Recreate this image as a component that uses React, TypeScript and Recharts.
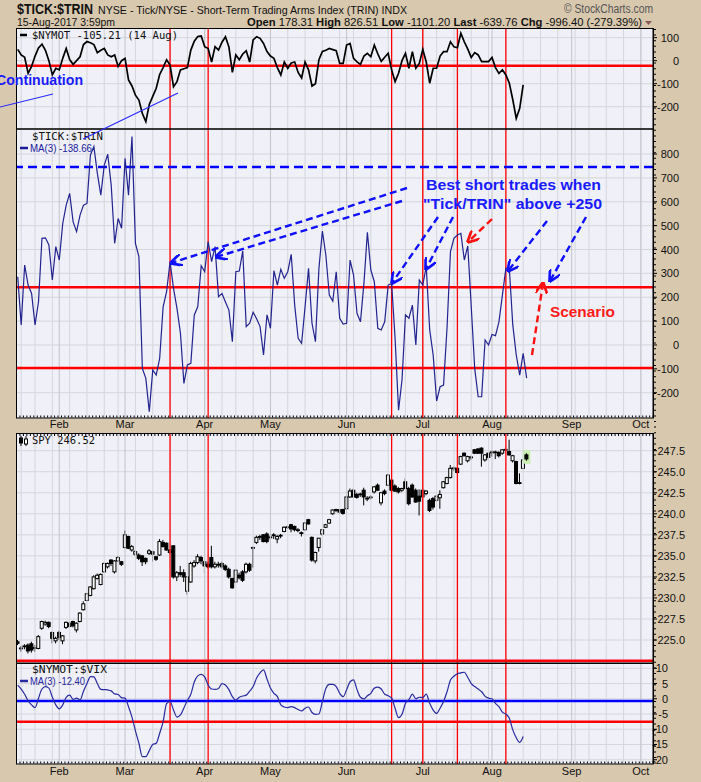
import React from 'react';
import { ComposedChart, LineChart, Line, Bar, XAxis, YAxis, CartesianGrid, ReferenceLine } from 'recharts';

// x is a trading-day index: 0 = 13 Jan 2017, 147 = 15 Aug 2017
const monthIdx = [12, 31, 54, 73, 95, 117, 137, 160, 180];
const monthLabels = ['Feb', 'Mar', 'Apr', 'May', 'Jun', 'Jul', 'Aug', 'Sep', 'Oct'];
const weekIdx = [1, 5, 10, 15, 20, 25, 29, 34, 39, 44, 49, 54, 59, 63, 68, 73, 78, 83, 88, 93, 97, 102, 107, 112, 117, 121, 126, 131, 136, 141, 146, 151, 156, 161, 165, 170, 175, 180];
const eventIdx = [44, 55, 108, 117, 127, 141];

const nymot = [
  49, 25, 15, -55, -25, 20, 55, 72, 45, 0, -62, -33, -40, 10, 53, 5, -16, 0, 17, 70,
  83, 78, 70, 35, 45, 53, 25, 17, 25, -25, 0, 10, -84, -110, -150, -171, -230, -265, -190, -155,
  -120, -60, -30, 4, -19, -113, -91, -40, -35, -30, 46, 85, 105, 107, 61, 53, -6, 61, 46, 80,
  104, 60, -51, 25, 4, 29, 43, -6, 90, 104, 97, 75, 40, 20, 10, -30, -62, -6, -33, -10,
  -6, -51, -75, -6, -40, -110, -100, 4, 40, 45, 53, 48, 43, -12, -12, 68, 75, 10, -5, -16,
  20, 32, 17, 68, 30, -3, 15, 32, -40, -91, -55, 0, 32, -33, 39, -33, -12, 49, -6, -98,
  -33, -33, 20, 39, 39, 82, 60, 56, 119, 82, 50, 14, 35, 25, -4, -4, -4, 14, -30, -55,
  -40, -62, -98, -170, -251, -207, -105,
];

const tickTrinMa = [
  286, 84, 335, 251, 216, 84, 181, 447, 449, 419, 272, 412, 356, 509, 586, 635, 516, 475, 544, 586,
  593, 796, 831, 719, 628, 754, 799, 670, 426, 530, 489, 782, 628, 873, 426, 370, -98, -140, -280, -105,
  -126, -56, 160, 223, 349, 237, 153, 49, -161, -84, -77, 126, 160, 332, 307, 433, 349, 412, 202, 216,
  180, 146, 14, 307, 310, 394, 77, 91, 137, 110, 77, -42, 126, 70, 311, 251, 317, 279, 307, 380,
  167, 28, 7, 160, 321, 91, 14, 321, 477, 377, 209, 184, 307, 112, 88, 91, 356, 293, 133, 97,
  258, 472, 314, 265, 70, 63, 97, 251, 258, 28, -273, -147, 126, 112, 167, 0, 272, 251, 328, 63,
  -42, -235, -175, -168, 70, 391, 447, 461, 468, 356, 415, 160, -98, -217, -217, 21, 0, 44, 39, 97,
  209, 321, 321, 84, -42, -126, -35, -139,
];

const spyOpen = [
  224.8, 224.0, 224.2, 224.4, 224.55, 224.0, 224.0, 226.4, 226.9, 227.1, 225.9, 224.9, 225.9, 224.9, 226.5, 227.0, 227.2, 226.2, 227.2, 228.6,
  229.7, 230.3, 231.1, 232.3, 231.6, 233.1, 233.7, 234.5, 233.1, 234.4, 234.3, 236.0, 237.3, 235.7, 235.2, 235.1, 235.0, 234.7, 235.3, 235.5,
  234.9, 235.1, 236.6, 236.5, 235.7, 236.2, 232.5, 233.0, 233.0, 230.8, 231.9, 233.8, 234.2, 234.8, 234.3, 234.0, 234.8, 233.7, 234.0, 234.1,
  233.8, 233.4, 232.3, 231.9, 232.7, 233.1, 233.1, 234.0, 235.9, 236.6, 237.2, 237.5, 237.6, 237.2, 237.5, 237.0, 237.4, 237.9, 238.4, 238.7,
  238.5, 238.05, 237.75, 238.1, 239.3, 237.2, 234.4, 236.0, 237.6, 238.4, 238.9, 240.0, 240.4, 240.5, 240.5, 240.6, 242.0, 242.8, 242.3, 242.3,
  242.8, 241.8, 241.95, 242.6, 243.4, 241.3, 242.7, 243.4, 244.0, 243.3, 243.0, 242.8, 243.8, 243.0, 243.4, 242.8, 242.1, 242.8, 242.4, 241.6,
  241.8, 241.6, 241.9, 243.1, 243.6, 244.3, 245.4, 245.4, 245.9, 247.2, 246.3, 246.7, 247.6, 247.7, 247.8, 246.4, 247.2, 247.3, 247.3, 247.3,
  247.2, 247.6, 247.4, 246.3, 246.2, 243.7, 245.4, 247.0,
];
const spyHigh = [
  225.0, 224.3, 224.5, 224.6, 224.8, 224.4, 225.6, 227.3, 227.3, 227.2, 226.0, 225.4, 226.1, 225.6, 227.2, 227.2, 227.3, 227.1, 228.3, 229.6,
  230.6, 231.4, 232.7, 232.9, 232.9, 234.2, 234.2, 234.6, 234.5, 235.0, 234.4, 238.0, 237.4, 236.3, 235.7, 235.3, 235.1, 234.8, 235.8, 235.6,
  235.0, 237.0, 236.9, 236.6, 235.8, 236.2, 233.2, 233.8, 233.4, 232.6, 234.3, 234.5, 235.2, 235.0, 234.5, 234.3, 236.2, 234.3, 234.3, 234.3,
  234.0, 233.6, 232.4, 233.4, 233.0, 233.3, 234.2, 234.2, 236.1, 237.4, 237.5, 237.6, 237.8, 237.5, 237.7, 237.5, 237.6, 238.5, 238.6, 238.8,
  238.6, 238.3, 237.9, 239.0, 239.4, 237.3, 235.5, 237.1, 238.2, 238.8, 239.4, 240.5, 240.6, 240.6, 240.6, 242.1, 243.0, 243.0, 242.5, 242.5,
  243.1, 242.1, 242.2, 243.3, 243.6, 242.6, 242.9, 244.7, 244.1, 243.5, 243.2, 243.1, 244.2, 243.2, 243.6, 243.0, 242.9, 243.0, 242.8, 241.8,
  242.0, 242.2, 242.8, 243.9, 244.4, 245.8, 245.6, 245.5, 246.9, 247.3, 246.9, 246.9, 247.7, 247.8, 247.9, 247.1, 247.3, 247.5, 247.5, 247.4,
  247.7, 247.9, 248.8, 247.0, 246.3, 244.8, 246.5, 247.2,
];
const spyLow = [
  224.4, 223.6, 223.9, 223.4, 223.5, 223.6, 223.9, 226.2, 226.7, 226.4, 224.6, 224.6, 225.0, 224.5, 226.3, 226.5, 226.5, 225.9, 227.1, 228.5,
  229.6, 230.2, 231.0, 232.2, 231.5, 233.0, 233.5, 233.8, 232.9, 234.3, 233.8, 235.9, 235.8, 235.5, 235.0, 234.5, 233.8, 234.0, 235.1, 234.3,
  234.4, 235.0, 236.0, 235.6, 235.2, 232.3, 232.0, 232.5, 231.9, 230.4, 231.8, 233.6, 234.0, 234.0, 232.9, 233.5, 233.5, 233.5, 233.6, 233.5,
  233.2, 232.3, 231.1, 231.8, 232.2, 231.9, 232.9, 233.1, 233.6, 236.4, 236.9, 236.6, 236.5, 236.9, 237.0, 236.5, 237.1, 237.8, 238.2, 237.8,
  237.9, 237.8, 237.3, 238.0, 238.7, 234.3, 234.1, 235.5, 237.4, 238.3, 238.8, 239.9, 240.2, 240.0, 239.9, 240.5, 241.9, 241.9, 241.8, 242.0,
  241.0, 241.5, 241.7, 242.4, 242.7, 241.0, 242.2, 243.3, 242.6, 242.6, 242.4, 242.6, 242.9, 241.0, 241.9, 241.3, 239.8, 241.9, 242.2, 240.2,
  240.5, 241.4, 240.6, 243.0, 243.5, 244.2, 245.1, 244.8, 245.8, 246.8, 246.1, 246.4, 247.1, 247.1, 245.6, 246.2, 246.4, 246.8, 246.5, 246.7,
  247.0, 247.3, 246.9, 246.1, 243.5, 243.5, 245.3, 246.3,
];
const spyClose = [
  224.6, 224.05, 224.3, 223.7, 223.8, 224.1, 225.4, 227.2, 227.1, 226.6, 225.2, 225.2, 225.3, 225.5, 227.1, 226.6, 226.7, 227.0, 228.2, 229.3,
  230.5, 231.3, 232.5, 232.7, 232.8, 234.1, 234.1, 234.1, 234.4, 234.8, 234.0, 237.5, 235.9, 236.1, 235.5, 234.7, 234.3, 234.3, 235.6, 235.2,
  234.6, 236.7, 236.1, 235.7, 235.4, 232.5, 233.0, 232.8, 232.5, 232.5, 234.1, 234.2, 234.9, 234.4, 233.8, 233.7, 233.7, 234.0, 233.95, 233.7,
  233.4, 232.5, 231.2, 233.3, 232.4, 232.1, 234.0, 233.3, 236.0, 237.2, 237.3, 236.7, 236.7, 237.25, 237.4, 237.3, 237.45, 238.4, 238.45, 238.2,
  238.1, 238.1, 237.7, 238.9, 238.8, 234.5, 235.4, 237.1, 238.1, 238.7, 239.3, 240.45, 240.5, 240.2, 240.05, 242.0, 242.7, 242.0, 241.95, 242.35,
  242.0, 241.85, 242.0, 243.2, 242.8, 242.5, 242.4, 244.6, 242.8, 242.7, 242.6, 243.0, 243.0, 241.2, 242.0, 241.4, 241.5, 242.0, 242.7, 240.4,
  240.8, 242.1, 242.3, 243.8, 244.3, 245.4, 245.45, 244.9, 246.8, 246.9, 246.8, 246.75, 247.2, 247.2, 247.2, 247.0, 246.7, 247.35, 247.35, 246.9,
  247.6, 247.65, 247.0, 246.9, 243.6, 243.6, 246.4, 246.52,
];

const nymotVixMa = [
  4.5, 3.2, 1.5, -0.7, -2.0, -2.9, 0.2, 3.2, 4.0, 3.5, 0.5, -2.0, -3.3, -2.0, 0.5, 1.2, -0.2, 0.2, -0.4, 2.5,
  5.0, 7.3, 7.2, 5.0, 3.1, 3.0, 2.9, 2.6, 1.6, 1.4, 0.4, 0.2, -2.6, -6.0, -10.5, -14.6, -19.0, -19.0, -17.0, -15.0,
  -14.6, -11.3, -7.5, -1.6, -0.9, -3.7, -6.0, -5.3, -3.0, -0.5, 1.5, 5.5, 7.5, 8.0, 7.2, 4.5, 3.2, 3.1, 3.4, 5.0,
  4.5, 3.0, 0.7, -0.4, 0.5, 0.9, 1.2, 2.5, 4.0, 6.8, 8.5, 9.5, 6.5, 3.5, 1.8, 0.7, -2.0, -2.7, -2.9, -2.6,
  -2.9, -3.5, -4.0, -3.1, -2.7, -4.5, -5.1, -5.0, -0.9, 3.4, 4.7, 4.7, 4.0, 1.8, 0.7, 3.0, 5.6, 6.2, 3.0, 0.5,
  0.0, 1.0, 1.8, 3.5, 3.8, 3.2, 1.5, 1.0, 0.2, -3.1, -6.2, -5.1, -1.5, -0.3, 1.5, 0.0, 0.5, 0.4, 1.5, -1.5,
  -3.7, -4.8, -3.1, -0.9, 2.3, 6.2, 7.4, 8.2, 8.5, 8.7, 7.0, 5.0, 4.0, 3.2, 2.3, 0.8, 0.2, 0.0, -1.5, -2.6,
  -4.4, -5.0, -6.4, -10.2, -12.8, -14.3, -12.4,
];

const nymotTicks = [100, 0, -100, -200];
const tickTrinTicks = [800, 700, 600, 500, 400, 300, 200, 100, 0, -100, -200];
const spyTicks = [247.5, 245, 242.5, 240, 237.5, 235, 232.5, 230, 227.5, 225];
const vixTicks = [10, 5, 0, -5, -10, -15, -20];

const nymotData = nymot.map((v, i) => ({ i, v }));
const tickData = tickTrinMa.map((v, i) => ({ i, v }));
const vixData = nymotVixMa.map((v, i) => ({ i, v }));
const spyData = spyClose.map((c, i) => ({ i, o: spyOpen[i], h: spyHigh[i], l: spyLow[i], c, range: [spyLow[i], spyHigh[i]] }));

const W = 701;
const X_DOMAIN: [number, number] = [-0.5, 183.5];
const AXIS_FONT = 'Liberation Sans, Arial, sans-serif';
const MONO = 'DejaVu Sans Mono, monospace';
const PLOT_BG = '#eff0f8';
const GRID = '#d6d6dc';
const MONTH_GRID = '#c4c4c8';
const RED = '#ff0000';

const rightTick = (edge: number, fmt: (v: number) => string) => (props: any) => {
  const { x, y, payload } = props;
  return (
    <text x={x + edge} y={y} dy={4} textAnchor="end" fontFamily={AXIS_FONT} fontSize={11} fill="#111">
      {fmt(payload.value)}
    </text>
  );
};

const Candle = (props: any) => {
  const { x, y, width, height, payload } = props;
  const { o, c, h, l } = payload;
  const top0 = height < 0 ? y + height : y;
  const hh = Math.abs(height);
  const cx = x + width / 2;
  const py = (v: number) => top0 + ((h - v) / (h - l)) * hh;
  const bTop = py(Math.max(o, c));
  const bBot = py(Math.min(o, c));
  const up = c >= o;
  const last = payload.i === spyClose.length - 1;
  return (
    <g>
      {last && <rect x={cx - 4} y={top0 - 3} width={8} height={hh + 6} fill="#c8f0b0" />}
      <line x1={cx} x2={cx} y1={top0} y2={top0 + hh} stroke="#000" strokeWidth={1} />
      <rect x={cx - 1.5} y={bTop} width={3} height={Math.max(bBot - bTop, 0.8)} fill={up ? '#fff' : '#000'} stroke="#000" strokeWidth={1} />
    </g>
  );
};

const verticalGrid = () => [
  ...weekIdx.map((w) => <ReferenceLine key={'w' + w} x={w} stroke={GRID} strokeWidth={1} />),
  ...monthIdx.map((m) => <ReferenceLine key={'m' + m} x={m} stroke={MONTH_GRID} strokeWidth={1} />),
];

const eventLines = () =>
  eventIdx.map((e) => <ReferenceLine key={'e' + e} x={e} stroke={RED} strokeWidth={1.3} />);

const monthAxis = (margin: number) => (
  <XAxis
    dataKey="i"
    type="number"
    domain={X_DOMAIN}
    allowDataOverflow
    ticks={monthIdx}
    interval={0}
    tickFormatter={(v: number) => monthLabels[monthIdx.indexOf(v)]}
    axisLine={false}
    tickLine={false}
    tickSize={0}
    tickMargin={margin}
    height={18}
    tick={{ fontFamily: AXIS_FONT, fontSize: 11, fill: '#111' }}
  />
);

const hiddenAxis = <XAxis dataKey="i" type="number" domain={X_DOMAIN} allowDataOverflow hide />;

const yAxis = (domain: [number, number], ticks: number[], edge: number, fmt: (v: number) => string) => (
  <YAxis
    orientation="right"
    width={48}
    type="number"
    domain={domain}
    allowDataOverflow
    ticks={ticks}
    interval={0}
    axisLine={{ stroke: '#000' }}
    tickLine={{ stroke: '#000' }}
    tickSize={4}
    tick={rightTick(edge, fmt)}
  />
);

const margin = { top: 0, right: 0, bottom: 0, left: 16 };

const arrowsBlue = [
  [407, 188, 171, 263],
  [402, 201, 216, 257],
  [438, 217, 392, 283],
  [453, 217, 426, 269],
  [547, 221, 508, 271],
  [586, 217, 550, 281],
];
const arrowsRed = [
  [492, 219, 468, 242],
  [532, 355, 543, 283],
];

const Overlay = () => (
  <svg width={W} height={782} style={{ position: 'absolute', left: 0, top: 0, pointerEvents: 'none' }}>
    <defs>
      <marker id="hb" viewBox="0 0 10 10" refX="9" refY="5" markerWidth="5" markerHeight="5" orient="auto">
        <path d="M0,0 L10,5 L0,10" fill="none" stroke="#1010ff" strokeWidth={2.2} />
      </marker>
      <marker id="hr" viewBox="0 0 10 10" refX="9" refY="5" markerWidth="5" markerHeight="5" orient="auto">
        <path d="M0,0 L10,5 L0,10" fill="none" stroke="#ff1010" strokeWidth={2.2} />
      </marker>
    </defs>
    {/* header */}
    <text x={17} y={14} fontFamily={AXIS_FONT} fontWeight="bold" fontSize={14} textLength={76} lengthAdjust="spacingAndGlyphs" fill="#111">$TICK:$TRIN</text>
    <text x={98} y={14} fontFamily={AXIS_FONT} fontSize={11.5} textLength={309} lengthAdjust="spacingAndGlyphs" fill="#111">NYSE - Tick/NYSE - Short-Term Trading Arms Index (TRIN) INDX</text>
    <text x={564} y={13} fontFamily={AXIS_FONT} fontSize={12} textLength={89} lengthAdjust="spacingAndGlyphs" fill="#555">© StockCharts.com</text>
    <text x={17} y={26} fontFamily={AXIS_FONT} fontSize={11} textLength={98} lengthAdjust="spacingAndGlyphs" fill="#111">15-Aug-2017 3:59pm</text>
    <text x={247} y={26} fontFamily={AXIS_FONT} fontSize={11} textLength={395} lengthAdjust="spacingAndGlyphs" fill="#111">
      <tspan fontWeight="bold">Open</tspan> 178.31 <tspan fontWeight="bold">High</tspan> 826.51 <tspan fontWeight="bold">Low</tspan> -1101.20 <tspan fontWeight="bold">Last</tspan> -639.76 <tspan fontWeight="bold">Chg</tspan> -996.40 (-279.39%)
    </text>
    <path d="M645,21 L652,21 L648.5,25 Z" fill="#8a5a5a" />

    {/* panel borders and daily tick rows */}
    <rect x={16.5} y={28.5} width={637} height={100.5} fill="none" stroke="#000" />
    <rect x={16.5} y={129} width={637} height={289} fill="none" stroke="#000" />
    <rect x={16.5} y={433.5} width={637} height={229.5} fill="none" stroke="#000" />
    <rect x={16.5} y={663.5} width={637} height={100.5} fill="none" stroke="#000" />
    <line x1={16} x2={653} y1={416.5} y2={416.5} stroke="#000" strokeWidth={2} strokeDasharray="1 2.46" />
    <line x1={16} x2={653} y1={435} y2={435} stroke="#000" strokeWidth={2} strokeDasharray="1 2.46" />
    <line x1={16} x2={653} y1={762.5} y2={762.5} stroke="#000" strokeWidth={2} strokeDasharray="1 2.46" />
    <line x1={655} x2={655} y1={29} y2={764} stroke="#000" strokeWidth={2} strokeDasharray="1 4.6" />

    {/* legends */}
    <line x1={20} x2={27} y1={35} y2={35} stroke="#000" strokeWidth={2.5} />
    <text x={32} y={39} fontFamily={MONO} fontSize={10.5} textLength={146} lengthAdjust="spacingAndGlyphs" fill="#111">$NYMOT -105.21 (14 Aug)</text>
    <text x={32} y={140} fontFamily={MONO} fontSize={10} textLength={71} lengthAdjust="spacingAndGlyphs" fill="#111">$TICK:$TRIN</text>
    <line x1={20} x2={28} y1={148} y2={148} stroke="#1a1a9a" strokeWidth={2.5} />
    <text x={30} y={152} fontFamily={AXIS_FONT} fontSize={10} textLength={62} lengthAdjust="spacingAndGlyphs" fill="#1a1a9a">MA(3) -138.66</text>
    <g stroke="#000" strokeWidth={1}>
      <line x1={21} x2={21} y1={436} y2={446} />
      <rect x={19.5} y={438} width={3} height={5} fill="#000" />
      <line x1={26} x2={26} y1={436} y2={446} />
      <rect x={24.5} y={439} width={3} height={5} fill="#fff" />
    </g>
    <text x={32} y={444} fontFamily={MONO} fontSize={10.5} textLength={63} lengthAdjust="spacingAndGlyphs" fill="#111">SPY 246.52</text>
    <text x={32} y={673} fontFamily={MONO} fontSize={10} textLength={75} lengthAdjust="spacingAndGlyphs" fill="#111">$NYMOT:$VIX</text>
    <line x1={20} x2={28} y1={681} y2={681} stroke="#2a2aa0" strokeWidth={2.5} />
    <text x={30} y={685} fontFamily={AXIS_FONT} fontSize={10} textLength={55} lengthAdjust="spacingAndGlyphs" fill="#2a2aa0">MA(3) -12.40</text>

    {/* annotations */}
    <text x={-4} y={85} fontFamily={AXIS_FONT} fontWeight="bold" fontSize={14} textLength={87} lengthAdjust="spacingAndGlyphs" fill="#1a1aff">Continuation</text>
    <line x1={0} y1={107} x2={53} y2={94} stroke="#2a2aff" strokeWidth={1.2} />
    <line x1={83} y1={139} x2={178} y2={93} stroke="#2a2aff" strokeWidth={1.2} />
    <text x={513.5} y={190} textAnchor="middle" fontFamily={AXIS_FONT} fontWeight="bold" fontSize={15} textLength={175} lengthAdjust="spacingAndGlyphs" fill="#1a1aff">Best short trades when</text>
    <text x={512.5} y={209} textAnchor="middle" fontFamily={AXIS_FONT} fontWeight="bold" fontSize={15} textLength={179} lengthAdjust="spacingAndGlyphs" fill="#1a1aff">"Tick/TRIN" above +250</text>
    <text x={550} y={317} fontFamily={AXIS_FONT} fontWeight="bold" fontSize={15} textLength={65} lengthAdjust="spacingAndGlyphs" fill="#ff1a1a">Scenario</text>
    {arrowsBlue.map(([x1, y1, x2, y2], k) => (
      <line key={'ab' + k} x1={x1} y1={y1} x2={x2} y2={y2} stroke="#1010ff" strokeWidth={2.4} strokeDasharray="7 4" markerEnd="url(#hb)" />
    ))}
    {arrowsRed.map(([x1, y1, x2, y2], k) => (
      <line key={'ar' + k} x1={x1} y1={y1} x2={x2} y2={y2} stroke="#ff1010" strokeWidth={2.4} strokeDasharray="7 4" markerEnd="url(#hr)" />
    ))}
  </svg>
);

const place = (top: number): React.CSSProperties => ({ position: 'absolute', left: 0, top });

export default function App() {
  return (
    <div style={{ position: 'absolute', left: 0, top: 0, width: W, height: 782, background: '#d8c8ae', overflow: 'hidden' }}>
      <div style={place(28)}>
        <LineChart width={W} height={101} data={nymotData} margin={margin}>
          <CartesianGrid fill={PLOT_BG} stroke={GRID} vertical={false} />
          {hiddenAxis}
          {yAxis([-297, 142], nymotTicks, 20, (v) => String(v))}
          {verticalGrid()}
          {eventLines()}
          <ReferenceLine y={-22} stroke={RED} strokeWidth={2.5} />
          <Line type="linear" dataKey="v" stroke="#000" strokeWidth={1.7} dot={false} isAnimationActive={false} />
        </LineChart>
      </div>
      <div style={place(129)}>
        <LineChart width={W} height={307} data={tickData} margin={margin}>
          <CartesianGrid fill={PLOT_BG} stroke={GRID} vertical={false} />
          {monthAxis(2)}
          {yAxis([-306, 905], tickTrinTicks, 20, (v) => String(v))}
          {verticalGrid()}
          {eventLines()}
          <ReferenceLine y={746} stroke="#0000ff" strokeWidth={2.5} strokeDasharray="9 5" />
          <ReferenceLine y={242} stroke={RED} strokeWidth={2.5} />
          <ReferenceLine y={-97} stroke={RED} strokeWidth={2.5} />
          <Line type="linear" dataKey="v" stroke="#23238f" strokeWidth={1.2} dot={false} isAnimationActive={false} />
        </LineChart>
      </div>
      <div style={place(433)}>
        <ComposedChart width={W} height={230} data={spyData} margin={margin}>
          <CartesianGrid fill={PLOT_BG} stroke={GRID} vertical={false} />
          {hiddenAxis}
          {yAxis([222.27, 249.6], spyTicks, 26, (v) => v.toFixed(1))}
          {verticalGrid()}
          {eventLines()}
          <ReferenceLine y={222.55} stroke={RED} strokeWidth={2.5} />
          <Bar dataKey="range" barSize={3} shape={<Candle />} isAnimationActive={false} />
        </ComposedChart>
      </div>
      <div style={place(663)}>
        <LineChart width={W} height={119} data={vixData} margin={margin}>
          <CartesianGrid fill={PLOT_BG} stroke={GRID} vertical={false} />
          {monthAxis(3)}
          {yAxis([-21.4, 11.74], vixTicks, 9, (v) => String(v))}
          {verticalGrid()}
          {eventLines()}
          <ReferenceLine y={-0.7} stroke="#0000ff" strokeWidth={2.5} />
          <ReferenceLine y={-7.5} stroke={RED} strokeWidth={2.5} />
          <Line type="monotone" dataKey="v" stroke="#2a2aa0" strokeWidth={1.2} dot={false} isAnimationActive={false} />
        </LineChart>
      </div>
      <Overlay />
    </div>
  );
}
